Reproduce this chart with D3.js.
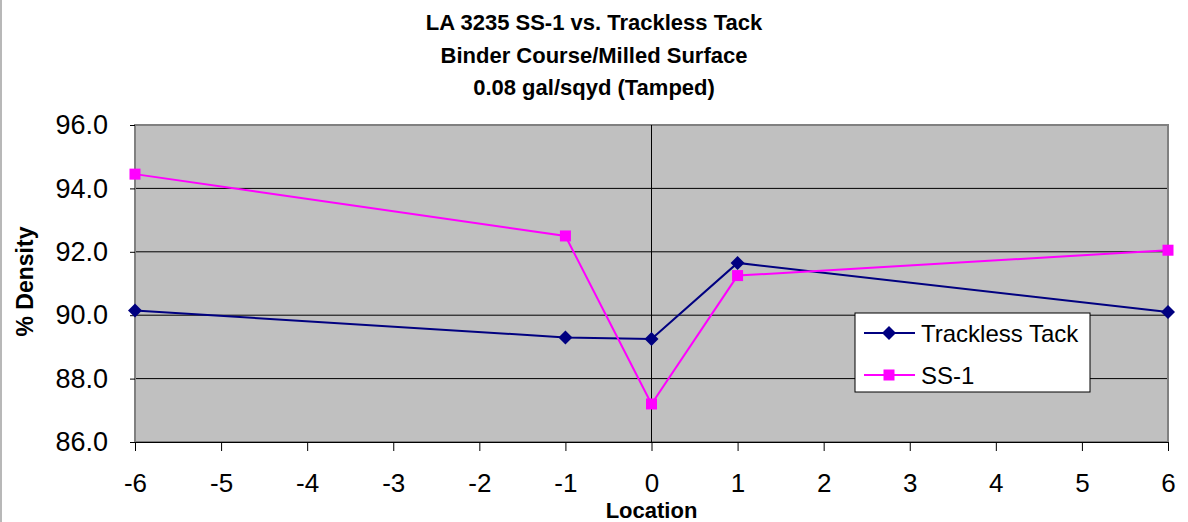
<!DOCTYPE html>
<html>
<head>
<meta charset="utf-8">
<script src="https://cdn.jsdelivr.net/npm/d3@7"></script>
<style>
  body { margin: 0; background: #fff; }
  svg { display: block; font-family: Arial, "Liberation Sans", sans-serif; }
</style>
</head>
<body>
<div id="chart"></div>
<script>
// Data
const titleLines = ["LA 3235 SS-1 vs. Trackless Tack", "Binder Course/Milled Surface", "0.08 gal/sqyd (Tamped)"];
const locations = [-6, -1, 0, 1, 6];
const tracklessTack = [90.15, 89.3, 89.25, 91.65, 90.1];
const ss1 = [94.45, 92.5, 87.2, 91.25, 92.05];
const xTicks = [-6, -5, -4, -3, -2, -1, 0, 1, 2, 3, 4, 5, 6];
const yTicks = [86, 88, 90, 92, 94, 96];

const series = [
    { name: "Trackless Tack", values: tracklessTack, color: "#000080", shape: "diamond" },
    { name: "SS-1", values: ss1, color: "#ff00ff", shape: "square" }
];

// Dimensions
const W = 1188, H = 522;
const plot = { left: 135, right: 1168, top: 125, bottom: 442 };

const svg = d3.select("#chart").append("svg")
    .attr("width", W)
    .attr("height", H);

// faint border at left edge of the image
svg.append("line")
    .attr("x1", 1).attr("x2", 1).attr("y1", 0).attr("y2", H)
    .attr("stroke", "#a0a0a0").attr("stroke-width", 1.5);

const x = d3.scaleLinear().domain([-6, 6]).range([plot.left, plot.right]);
const y = d3.scaleLinear().domain([86, 96]).range([plot.bottom, plot.top]);

// Plot background
svg.append("rect")
    .attr("x", plot.left).attr("y", plot.top)
    .attr("width", plot.right - plot.left).attr("height", plot.bottom - plot.top)
    .attr("fill", "#c0c0c0");

// Gridlines
svg.append("g")
    .selectAll("line")
    .data(yTicks.filter(d => d > 86 && d < 96))
    .join("line")
    .attr("x1", plot.left).attr("x2", plot.right)
    .attr("y1", d => y(d)).attr("y2", d => y(d))
    .attr("stroke", "#000").attr("stroke-width", 1);

// Plot border
svg.append("rect")
    .attr("x", plot.left).attr("y", plot.top)
    .attr("width", plot.right - plot.left).attr("height", plot.bottom - plot.top)
    .attr("fill", "none")
    .attr("stroke", "#808080").attr("stroke-width", 2);

// Y axis, ticks at the left
const yAxis = svg.append("g")
    .attr("transform", `translate(${plot.left},0)`)
    .call(d3.axisLeft(y).tickValues(yTicks).tickFormat(d3.format(".1f")).tickSize(5).tickPadding(22));
yAxis.select(".domain").remove();
yAxis.selectAll("line").attr("stroke", "#000");
yAxis.selectAll("text").attr("font-size", 27).attr("fill", "#000")
    .attr("font-family", "Arial, 'Liberation Sans', sans-serif");

// vertical zero line
svg.append("line")
    .attr("x1", x(0)).attr("x2", x(0))
    .attr("y1", plot.top).attr("y2", plot.bottom)
    .attr("stroke", "#000").attr("stroke-width", 1);

// X axis
const xAxis = svg.append("g")
    .attr("transform", `translate(0,${plot.bottom})`)
    .call(d3.axisBottom(x).tickValues(xTicks).tickFormat(d => String(d)).tickSize(9).tickPadding(23));
xAxis.select(".domain").attr("stroke", "#000");
xAxis.selectAll("line").attr("stroke", "#000");
xAxis.selectAll("text").attr("font-size", 26).attr("fill", "#000")
    .attr("font-family", "Arial, 'Liberation Sans', sans-serif");

// Lines
const line = d3.line()
    .x((d, i) => x(locations[i]))
    .y(d => y(d));

series.forEach(s => {
    svg.append("path")
        .datum(s.values)
        .attr("fill", "none")
        .attr("stroke", s.color)
        .attr("stroke-width", 2)
        .attr("d", line);
});

function drawMarker(g, shape, color, cx, cy) {
    if (shape === "diamond") {
        g.append("path")
            .attr("d", `M${cx},${cy - 7}L${cx + 7},${cy}L${cx},${cy + 7}L${cx - 7},${cy}Z`)
            .attr("fill", color);
    } else {
        g.append("rect")
            .attr("x", cx - 5.5).attr("y", cy - 5.5)
            .attr("width", 11).attr("height", 11)
            .attr("fill", color);
    }
}

series.forEach(s => {
    const g = svg.append("g");
    s.values.forEach((v, i) => drawMarker(g, s.shape, s.color, x(locations[i]), y(v)));
});

// Legend
const legend = svg.append("g").attr("transform", "translate(855,313)");
legend.append("rect")
    .attr("width", 235).attr("height", 79)
    .attr("fill", "#fff").attr("stroke", "#000").attr("stroke-width", 1);
series.forEach((s, i) => {
    const ly = 20 + i * 42;
    legend.append("line")
        .attr("x1", 9).attr("x2", 60).attr("y1", ly).attr("y2", ly)
        .attr("stroke", s.color).attr("stroke-width", 2);
    drawMarker(legend, s.shape, s.color, 34, ly);
    legend.append("text")
        .attr("x", 66).attr("y", ly + 8.5)
        .attr("font-size", 24)
        .attr("fill", "#000")
        .text(s.name);
});

// Titles
svg.append("g").selectAll("text")
    .data(titleLines)
    .join("text")
    .attr("x", 594)
    .attr("y", (d, i) => 30 + i * 32.5)
    .attr("text-anchor", "middle")
    .attr("font-size", 22)
    .attr("font-weight", "bold")
    .attr("fill", "#000")
    .text(d => d);

// Axis titles
svg.append("text")
    .attr("transform", `translate(33,${(plot.top + plot.bottom) / 2 - 2}) rotate(-90)`)
    .attr("text-anchor", "middle")
    .attr("font-size", 23)
    .attr("font-weight", "bold")
    .text("% Density");

svg.append("text")
    .attr("x", x(0))
    .attr("y", 518)
    .attr("text-anchor", "middle")
    .attr("font-size", 22)
    .attr("font-weight", "bold")
    .text("Location");
</script>
</body>
</html>
